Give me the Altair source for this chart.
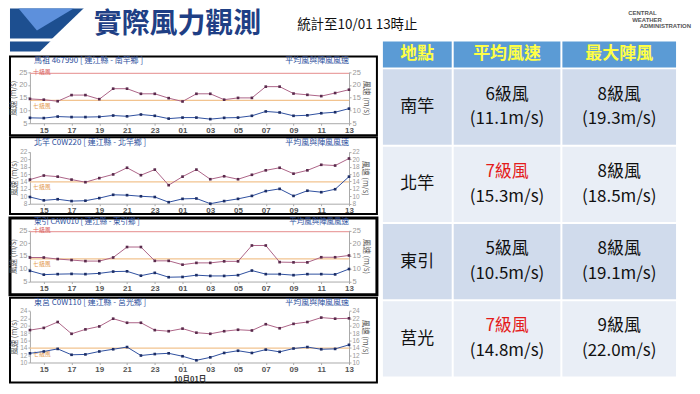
import json
import altair as alt
import pandas as pd

CJK = "Noto Sans CJK TC"
NUM_FONT = "Liberation Sans"

# ---------------- data ----------------
hours = ["14", "15", "16", "17", "18", "19", "20", "21", "22", "23",
         "00", "01", "02", "03", "04", "05", "06", "07", "08", "09",
         "10", "11", "12", "13"]

station_titles = ["馬祖 467990 [ 連江縣 - 南竿鄉 ]",
                  "北竿 C0W220 [ 連江縣 - 北竿鄉 ]",
                  "東引 CAW010 [ 連江縣 - 東引鄉 ]",
                  "東莒 C0W110 [ 連江縣 - 莒光鄉 ]"]
panel_right_title = "平均風與陣風風速"
y_title = "風速 (m/s)"
x_title = "10月01日"

gust_nangan = [14.5, 14.2, 13.6, 16.0, 16.0, 14.4, 18.5, 18.5, 16.5, 16.5, 14.8, 13.5,
               16.5, 16.5, 14.2, 14.9, 14.9, 19.3, 19.3, 16.6, 16.1, 15.6, 16.8, 18.1]
avg_nangan = [7.1, 7.0, 7.6, 7.4, 7.4, 7.5, 8.0, 7.7, 8.4, 7.9, 6.8, 7.2,
              7.2, 6.6, 7.1, 7.2, 7.9, 9.6, 9.2, 7.9, 8.1, 8.9, 9.3, 10.7]
gust_beigan = [14.5, 15.6, 15.3, 14.5, 13.8, 14.9, 15.9, 17.7, 15.7, 17.2, 13.0, 15.3,
               17.2, 14.6, 15.4, 14.6, 15.8, 17.0, 17.7, 16.1, 17.0, 18.5, 18.3, 20.2]
avg_beigan = [9.8, 8.9, 9.2, 8.7, 8.8, 9.5, 10.4, 10.3, 10.0, 9.8, 8.4, 9.3,
              9.4, 8.0, 8.7, 9.3, 10.1, 11.4, 12.0, 10.1, 11.5, 11.1, 11.9, 15.3]
gust_dongyin = [14.4, 14.4, 13.8, 13.4, 13.0, 13.0, 14.4, 18.5, 18.5, 13.1, 13.1, 11.6,
                12.3, 12.3, 12.9, 12.9, 19.1, 19.1, 12.6, 12.5, 12.5, 14.5, 14.5, 15.2]
avg_dongyin = [9.2, 7.7, 7.9, 8.0, 7.9, 8.2, 8.9, 9.0, 7.3, 8.4, 6.7, 6.8,
               7.5, 7.2, 7.2, 7.5, 9.3, 7.9, 7.9, 7.5, 7.9, 7.9, 7.8, 9.9]
gust_juguang = [18.8, 19.4, 21.0, 17.8, 19.0, 19.8, 21.9, 20.8, 20.8, 18.8, 18.5, 19.2,
                18.1, 17.8, 18.5, 18.9, 18.7, 20.4, 19.3, 20.5, 21.0, 22.2, 21.9, 22.0]
avg_juguang = [12.5, 13.0, 13.7, 12.1, 12.2, 13.0, 13.6, 14.2, 11.9, 12.3, 12.5, 11.7,
               10.6, 11.4, 12.6, 13.2, 12.6, 13.5, 12.9, 13.8, 14.2, 13.6, 13.7, 14.8]

threshold_names = ["十級風", "七級風"]
threshold_values = [24.5, 13.9]

y_domains = [(5, 25), (8, 22), (5, 25), (10, 24)]
y_steps = [5, 2, 5, 2]

slide_title = "實際風力觀測"
slide_subtitle = "統計至10/01  13時止"
logo_lines = ["CENTRAL", "WEATHER", "ADMINISTRATION"]

col_names = ["地點", "平均風速", "最大陣風"]
stations = ["南竿", "北竿", "東引", "莒光"]
avg_level = ["6級風", "7級風", "5級風", "7級風"]
avg_speed = ["(11.1m/s)", "(15.3m/s)", "(10.5m/s)", "(14.8m/s)"]
gust_level = ["8級風", "8級風", "8級風", "9級風"]
gust_speed = ["(19.3m/s)", "(18.5m/s)", "(19.1m/s)", "(22.0m/s)"]

# ---------------- layout / style ----------------
PANEL_W = 368
XL, XR = 20, 340
panel_heights = [79, 77, 77, 85]
panel_yrange = [(67, 15.7), (66.7, 14.7), (63.8, 12.5), (65, 13.3)]
panel_title_y = [5, 5.5, 4, 5.5]
panel_title_fs = [8, 8, 7.5, 8]
frame_widths = [2, 2, 3, 2]
GUST_C = "#ad6488"
GUST_PT = "#5a2a4c"
AVG_C = "#2f50a0"
AVG_PT = "#1c2d66"
THR_LINE = ["#eaa3a3", "#f2c38f"]
THR_TEXT = ["#d9605a", "#e39a50"]
TITLE_BLUE = "#2d4f9d"

DARK = "#1d4f90"
LIGHT = "#5d90dc"
DARK_PATH = "M-0.96,-0.56L0.84,-0.56L-0.2,0.44L-0.96,0.44Z"
LIGHT_PATH = "M-0.76,-0.56L0.74,-0.56L-0.26,0.04Z"

one = pd.DataFrame({"k": [0]})


def make_panel(k, gust, avg):
    h = panel_heights[k]
    yb, yt = panel_yrange[k]
    lo, hi = y_domains[k]
    yvals = list(range(lo, hi + 1, y_steps[k]))
    lab_fs = 7.5 if y_steps[k] == 5 else 6.5
    df = pd.DataFrame({"i": list(range(len(hours))), "gust": gust, "avg": avg})

    xscale = alt.Scale(domain=[0, len(hours) - 1], range=[XL, XR], nice=False, zero=False)
    xaxis = alt.Axis(orient="bottom", offset=yb - h, values=list(range(1, 24, 2)),
                     labelExpr=json.dumps(hours) + "[datum.value]",
                     labelFont=NUM_FONT, labelFontSize=8, labelFontWeight="bold",
                     labelColor="#555", labelPadding=1, tickSize=2, tickColor="#aaa",
                     domainColor="#aaa", grid=False, labelFlush=False, labelOverlap=False,
                     titleFontSize=7.5, titleFontWeight="bold", titleColor="#333",
                     titlePadding=2.5)
    if k == 3:
        X = alt.X("i:Q", scale=xscale, axis=xaxis, title=x_title)
    else:
        X = alt.X("i:Q", scale=xscale, axis=xaxis, title=None)

    yscale = alt.Scale(domain=[lo, hi], range=[yb, yt], nice=False, zero=False)
    common_ax = dict(values=yvals, title=y_title, titleFontSize=7.5, titleColor="#555",
                     titleFontWeight="normal", titlePadding=1, labelFont=NUM_FONT,
                     labelFontSize=lab_fs, labelColor="#999", labelPadding=1, tickSize=2,
                     tickColor="#aaa", domainColor="#aaa", grid=False, labelFlush=False,
                     labelOverlap=False)
    left_axis = alt.Axis(orient="left", offset=-XL, **common_ax)
    right_axis = alt.Axis(orient="right", offset=-(PANEL_W - XR), **common_ax)

    Yg = alt.Y("gust:Q", scale=yscale, axis=left_axis)
    Ya = alt.Y("avg:Q", scale=yscale, axis=right_axis)

    layers = []
    for j, (nm, v) in enumerate(zip(threshold_names, threshold_values)):
        if lo <= v <= hi:
            tdf = pd.DataFrame({"name": [nm], "v": [v]})
            layers.append(alt.Chart(tdf).mark_rule(color=THR_LINE[j], strokeWidth=1.2).encode(
                y=alt.Y("v:Q", scale=yscale, axis=left_axis),
                x=alt.value(XL), x2=alt.value(XR)))
            layers.append(alt.Chart(tdf).mark_text(
                color=THR_TEXT[j], fontSize=6, align="left",
                dy=(-1.5 if j == 0 else 5.5)).encode(
                y=alt.Y("v:Q", scale=yscale, axis=left_axis),
                x=alt.value(XL + 3), text="name:N"))

    layers.append(alt.Chart(df).mark_line(color=GUST_C, strokeWidth=1).encode(x=X, y=Yg))
    layers.append(alt.Chart(df).mark_point(filled=True, shape="square", size=7,
                                           color=GUST_PT, opacity=1).encode(x=X, y=Yg))
    tdf = pd.DataFrame({"t": [station_titles[k]], "r": [panel_right_title]})
    ty = panel_title_y[k]
    fs = panel_title_fs[k]
    layers.append(alt.Chart(tdf).mark_text(color=TITLE_BLUE, fontSize=fs, align="left").encode(
        x=alt.value(XL + 4), y=alt.value(ty), text="t:N"))
    layers.append(alt.Chart(tdf).mark_text(color=TITLE_BLUE, fontSize=fs, align="right").encode(
        x=alt.value(XR), y=alt.value(ty), text="r:N"))

    avg_layer = alt.layer(
        alt.Chart(df).mark_line(color=AVG_C, strokeWidth=1).encode(x=X, y=Ya),
        alt.Chart(df).mark_point(filled=True, shape="square", size=7,
                                 color=AVG_PT, opacity=1).encode(x=X, y=Ya),
    )
    return alt.layer(alt.layer(*layers), avg_layer).resolve_scale(y="independent").properties(
        width=PANEL_W, height=h,
        view=alt.ViewBackground(stroke="black", strokeWidth=frame_widths[k], fill="white"))


panels = [
    make_panel(0, gust_nangan, avg_nangan),
    make_panel(1, gust_beigan, avg_beigan),
    make_panel(2, gust_dongyin, avg_dongyin),
    make_panel(3, gust_juguang, avg_juguang),
]

spacer = alt.Chart(one).mark_point(shape=DARK_PATH, filled=True, size=10000, color=DARK,
                                   opacity=1, strokeWidth=0, clip=True).encode(
    x=alt.value(40), y=alt.value(-12)).properties(width=PANEL_W, height=14)

leftcol = alt.vconcat(spacer, *panels, spacing=0)

# ---------------- header ----------------
hdr_df = pd.DataFrame({"title": [slide_title], "sub": [slide_subtitle],
                       "l0": [logo_lines[0]], "l1": [logo_lines[1]], "l2": [logo_lines[2]]})
hb = alt.Chart(hdr_df)
header = alt.layer(
    hb.mark_point(shape=DARK_PATH, filled=True, size=10000, color=DARK, opacity=1,
                  strokeWidth=0, clip=True).encode(x=alt.value(40), y=alt.value(20)),
    hb.mark_point(shape=LIGHT_PATH, filled=True, size=10000, color=LIGHT, opacity=1,
                  strokeWidth=0, clip=True).encode(x=alt.value(40), y=alt.value(20)),
    hb.mark_text(fontSize=28, fontWeight="bold", color="#1f3f85", align="left").encode(
        x=alt.value(84), y=alt.value(16.5), text="title:N"),
    hb.mark_text(fontSize=13.5, color="#111", align="left").encode(
        x=alt.value(288), y=alt.value(17), text="sub:N"),
    hb.mark_text(fontSize=6, fontWeight="bold", color="#555", align="left",
                 font=NUM_FONT).encode(x=alt.value(620), y=alt.value(4), text="l0:N"),
    hb.mark_text(fontSize=6, fontWeight="bold", color="#555", align="left",
                 font=NUM_FONT).encode(x=alt.value(624), y=alt.value(11), text="l1:N"),
    hb.mark_text(fontSize=6, fontWeight="bold", color="#555", align="right",
                 font=NUM_FONT).encode(x=alt.value(683), y=alt.value(18), text="l2:N"),
).properties(width=684, height=30)

# ---------------- table ----------------
col_widths = [69, 107, 114]
tab = pd.DataFrame({
    "station": stations,
    "avg_level": avg_level, "avg_speed": avg_speed,
    "gust_level": gust_level, "gust_speed": gust_speed,
})
tab["shade"] = ["dark" if i % 2 == 0 else "light" for i in range(len(tab))]
tab["avg_hl"] = [int(s[0]) == 7 for s in avg_level]
tab["gust_hl"] = [False for s in gust_level]

hdr_cells = []
for n, w in zip(col_names, col_widths):
    hdr_cells.append(alt.Chart(pd.DataFrame({"h": [n]})).mark_text(
        fontSize=17, fontWeight="bold", color="#ffff45").encode(text="h:N").properties(
        width=w, height=26, view=alt.ViewBackground(fill="#5b9bd5", stroke=None)))

Yrow = alt.Y("station:N", sort=stations, axis=None,
             scale=alt.Scale(paddingInner=0.025, paddingOuter=0))


def body_col(w, l1=None, l2=None, hl=None, single=None):
    base = alt.Chart(tab)
    lay = [base.mark_rect().encode(
        y=Yrow, x=alt.value(0), x2=alt.value(w),
        fill=alt.Fill("shade:N", scale=alt.Scale(domain=["dark", "light"],
                                                 range=["#d0dbec", "#e9eef6"]), legend=None))]
    if single:
        lay.append(base.mark_text(fontSize=17, color="#111").encode(y=Yrow, text=f"{single}:N"))
    else:
        lay.append(base.mark_text(fontSize=17, dy=-12.4).encode(
            y=Yrow, text=f"{l1}:N",
            color=alt.condition(f"datum.{hl}", alt.value("#e41b1b"), alt.value("#111"))))
        lay.append(base.mark_text(fontSize=17, dy=12.4, color="#111").encode(
            y=Yrow, text=f"{l2}:N"))
    return alt.layer(*lay).properties(width=w, height=308)


body_cells = [
    body_col(col_widths[0], single="station"),
    body_col(col_widths[1], "avg_level", "avg_speed", "avg_hl"),
    body_col(col_widths[2], "gust_level", "gust_speed", "gust_hl"),
]

table = alt.vconcat(alt.hconcat(*hdr_cells, spacing=2),
                    alt.hconcat(*body_cells, spacing=2), spacing=2)

chart = alt.vconcat(header, alt.hconcat(leftcol, table, spacing=4), spacing=2).properties(
    padding=0, background="white"
).configure(font=CJK).configure_view(stroke=None)

chart.save("out.html", embed_options={"renderer": "svg", "actions": False})
